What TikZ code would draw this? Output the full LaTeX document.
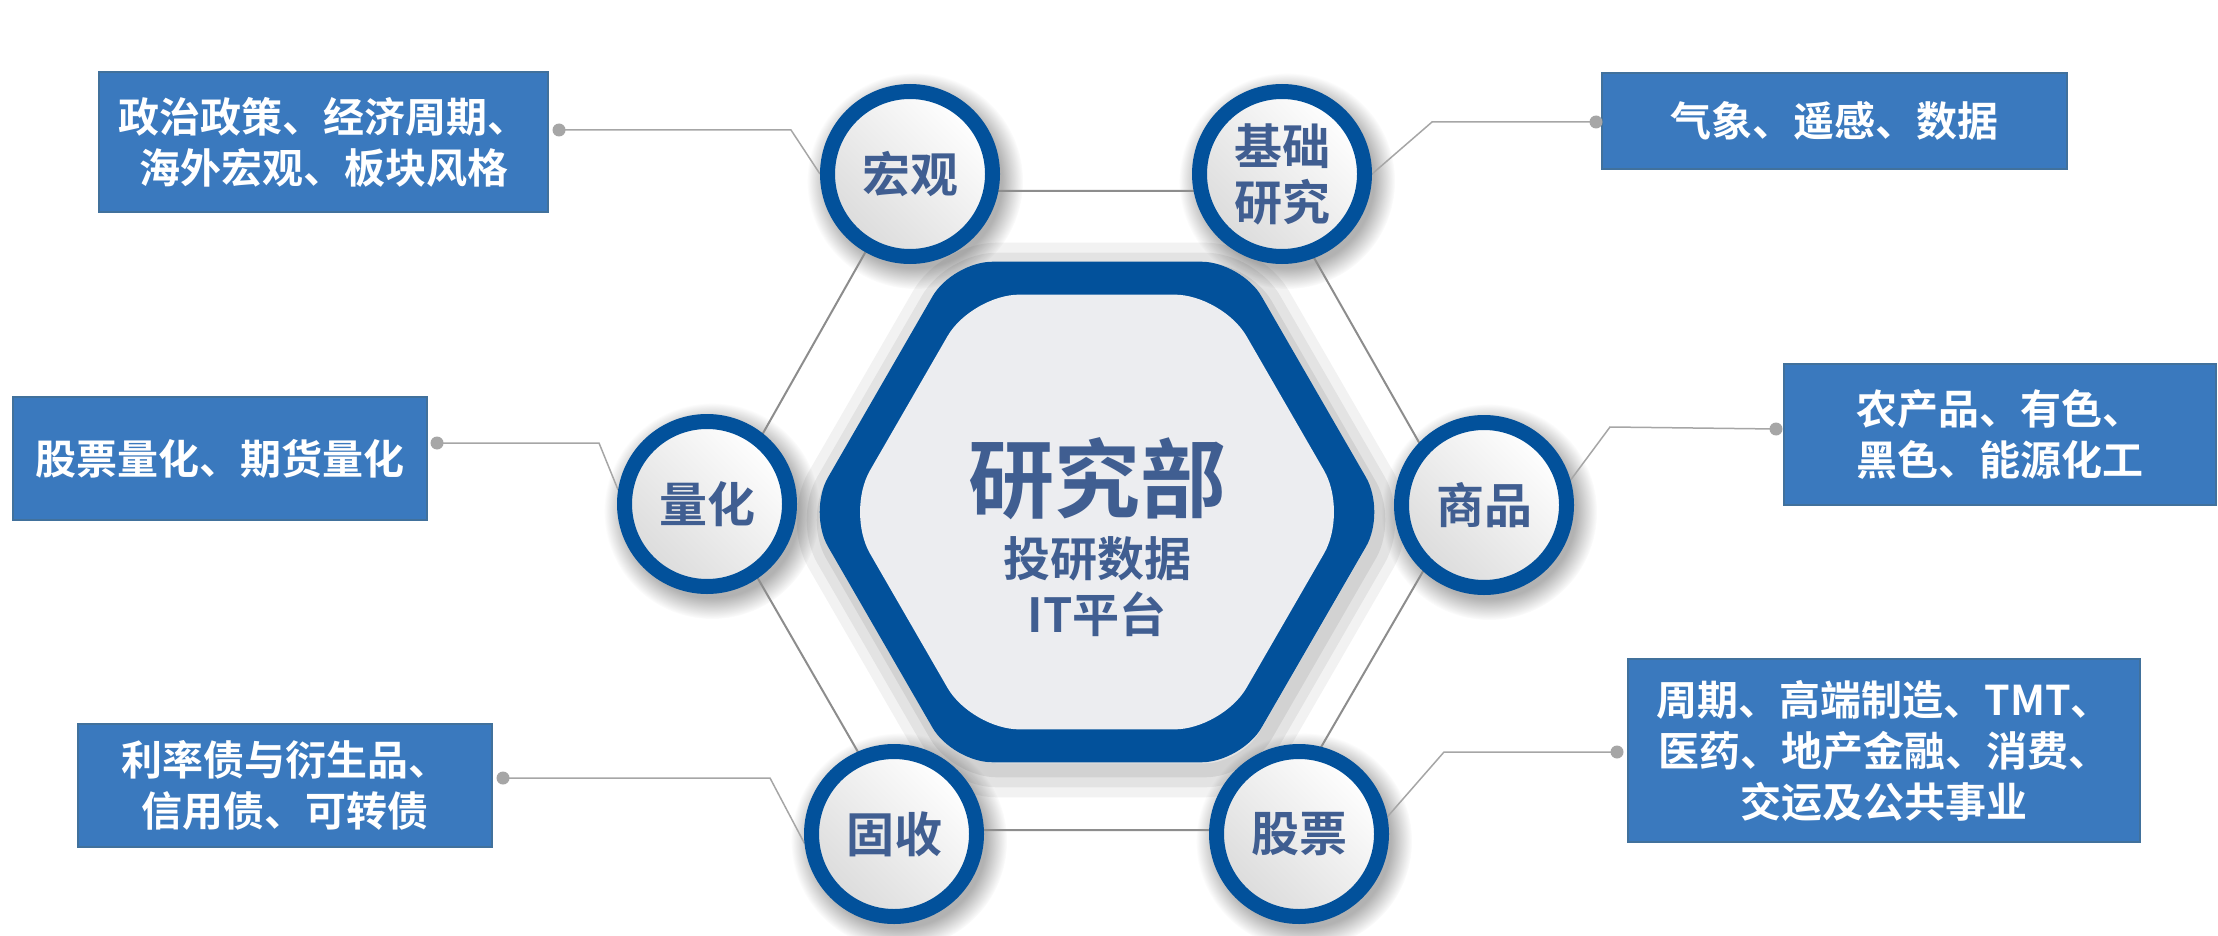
\documentclass[tikz,border=0pt]{standalone}
\usepackage{fontspec}
\newfontfamily\cjk{Noto Sans CJK SC}[BoldFont={Noto Sans CJK SC Bold}]
\usetikzlibrary{calc,fadings,backgrounds}
\definecolor{ringblue}{RGB}{2,81,155}
\definecolor{txtblue}{RGB}{64,94,145}
\definecolor{boxblue}{RGB}{58,121,190}
\definecolor{boxedge}{RGB}{65,113,156}
\definecolor{leadgrey}{RGB}{166,166,166}
\definecolor{hexfill}{RGB}{236,237,240}

\begin{document}
\begin{tikzpicture}[
   x = 1pt, y = -1pt,
   every node/.style = {inner sep=0pt, align=center},
   ball/.style = {circle, draw=ringblue, line width=15pt, minimum size=165pt,
      top color=white, bottom color=black!14, shading angle=-45,
      text=txtblue, font=\cjk\bfseries\fontsize{48}{56}\selectfont},
   infobox/.style = {fill=boxblue, draw=boxedge, line width=1.5pt,
      text=white, font=\cjk\bfseries\fontsize{41}{51}\selectfont},
   knob/.style = {circle, fill=leadgrey, minimum size=13pt},
   lead/.style = {draw=leadgrey, line width=1.5pt},
   link/.style = {draw=leadgrey!85!black, line width=2pt},
   hexa/.style = {rounded corners=40pt, line join=round},
   shade ball/.style = {black, opacity=.3,
      path fading=circle with fuzzy edge 20 percent},
]
   \useasboundingbox (0,0) rectangle (2218,936);
   \begin{scope}[on background layer]
      \fill [white] (0,0) rectangle (2218,936);
   \end{scope}
   % shadow of the hexagon
   \coordinate (hs) at (1101,520);
   \draw [hexa, black, opacity=.05, line width=54pt]
      ($(hs)+(-289,0)$) -- ++(60:289) -- ++(0:289) -- ++(-60:289)
      -- ++(-120:289) -- ++(180:289) -- cycle;
   \draw [hexa, black, opacity=.06, line width=34pt]
      ($(hs)+(-289,0)$) -- ++(60:289) -- ++(0:289) -- ++(-60:289)
      -- ++(-120:289) -- ++(180:289) -- cycle;
   \draw [hexa, black, opacity=.07, line width=14pt]
      ($(hs)+(-289,0)$) -- ++(60:289) -- ++(0:289) -- ++(-60:289)
      -- ++(-120:289) -- ++(180:289) -- cycle;
   % blue ring and inner plate
   \coordinate (hc) at (1097,512);
   \fill [hexa, ringblue]
      ($(hc)+(-289,0)$) -- ++(60:289) -- ++(0:289) -- ++(-60:289)
      -- ++(-120:289) -- ++(180:289) -- cycle;
   \fill [hexa, rounded corners=48pt, hexfill]
      ($(hc)+(-251,0)$) -- ++(60:251) -- ++(0:251) -- ++(-60:251)
      -- ++(-120:251) -- ++(180:251) -- cycle;
   \node [text=txtblue, font=\cjk\bfseries\fontsize{86}{90}\selectfont]
      (dept) at (1097,479) {研究部};
   \node [text=txtblue, font=\cjk\bfseries\fontsize{47}{56}\selectfont]
      (plat) at (1097,587) {投研数据\\IT平台};

   % circles
   \node [ball] (hg) at (910,174) {宏观};
   \node [ball] (jc) at (1282,174) {基础\\研究};
   \node [ball] (lh) at (707,504) {量化};
   \node [ball] (sp) at (1484,505) {商品};
   \node [ball] (gs) at (894,834) {固收};
   \node [ball] (gp) at (1299,834) {股票};

   % boxes
   \node [infobox, minimum width=449pt, minimum height=140pt]
      (hgbox) at (323.5,142) {政治政策、经济周期、\\海外宏观、板块风格};
   \node [infobox, minimum width=414pt, minimum height=123pt]
      (lhbox) at (220,458.5) {股票量化、期货量化};
   \node [infobox, minimum width=414pt, minimum height=123pt]
      (gsbox) at (285,785.5) {利率债与衍生品、\\信用债、可转债};
   \node [infobox, minimum width=465pt, minimum height=96pt]
      (jcbox) at (1834.5,121) {气象、遥感、数据};
   \node [infobox, minimum width=432pt, minimum height=141pt]
      (spbox) at (2000,434.5) {农产品、有色、\\黑色、能源化工};
   \node [infobox, minimum width=512pt, minimum height=183pt]
      (gpbox) at (1884,750.5) {周期、高端制造、TMT、\\医药、地产金融、消费、\\交运及公共事业};

   % knobs
   \node [knob] (hgknob) at (559,130) {};
   \node [knob] (lhknob) at (437,443) {};
   \node [knob] (gsknob) at (503,778) {};
   \node [knob] (jcknob) at (1596,122) {};
   \node [knob] (spknob) at (1776,429) {};
   \node [knob] (gpknob) at (1617,752) {};

   \begin{scope}[on background layer]
      % soft shadows under the circles
      \fill [shade ball] ([shift={(5,7)}]hg.center) circle (108);
      \fill [shade ball] ([shift={(5,7)}]jc.center) circle (108);
      \fill [shade ball] ([shift={(5,7)}]lh.center) circle (108);
      \fill [shade ball] ([shift={(5,7)}]sp.center) circle (108);
      \fill [shade ball] ([shift={(5,7)}]gs.center) circle (108);
      \fill [shade ball] ([shift={(5,7)}]gp.center) circle (108);
      % ring of links
      \draw [link] ([shift={(-10,17)}]hg.center)
         -- ([shift={(-6,17)}]jc.center)
         -- ([shift={(-26,6)}]sp.center)
         -- ([shift={(-26,-4)}]gp.center)
         -- ([shift={(9,-4)}]gs.center)
         -- ([shift={(12,7)}]lh.center) -- cycle;
      % leaders
      \draw [lead] (hgknob.center) -- ++(232,0) -- (hg.180);
      \draw [lead] (lhknob.center) -- ++(162,0) -- (lh.171);
      \draw [lead] (gsknob.center) -- ++(267,0) -- (gs.186);
      \draw [lead] (jcknob.center) -- ++(-164,0) -- (jc.0);
      \draw [lead] (spknob.center) -- ++(-166,-2) -- (sp.16);
      \draw [lead] (gpknob.center) -- ++(-173,0) -- (gp.11);
   \end{scope}
\end{tikzpicture}
\end{document}
